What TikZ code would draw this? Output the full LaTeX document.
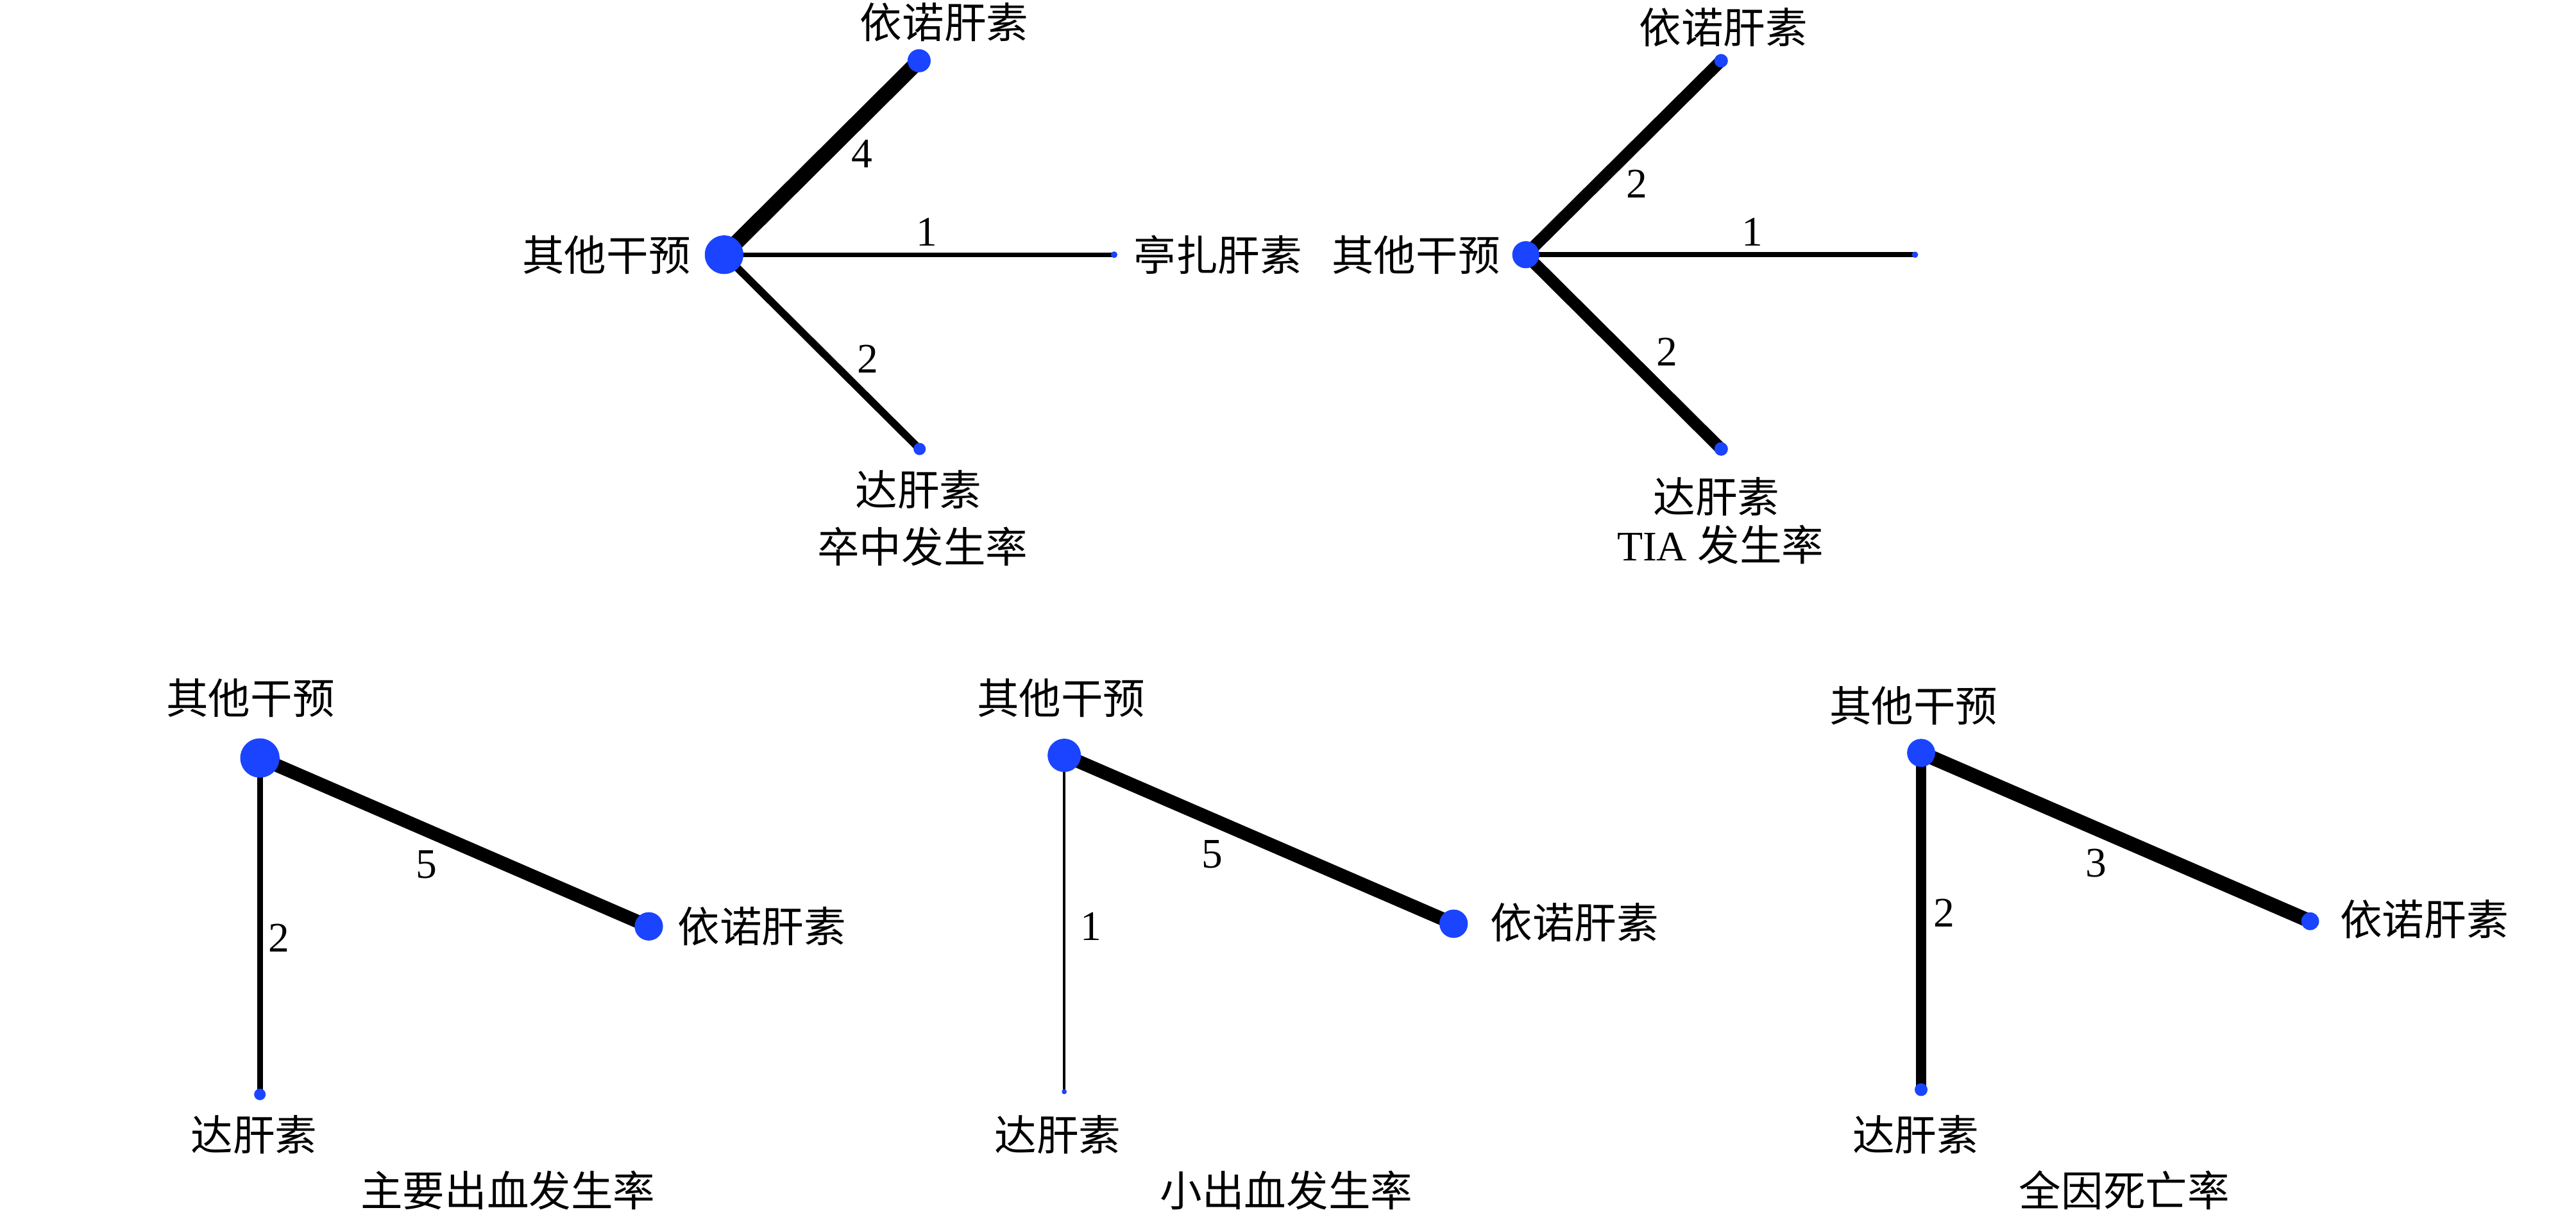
\documentclass[tikz,border=0pt]{standalone}
\usepackage{fontspec}
\setmainfont{Liberation Serif}
\newfontfamily\cjk{Noto Sans CJK SC}
\usetikzlibrary{positioning}
\pgfdeclarelayer{background}
\pgfsetlayers{background,main}
\definecolor{netblue}{RGB}{26,68,255}
\newcommand{\lblsize}{\fontsize{14.5}{16}\selectfont}

\begin{document}
\begin{tikzpicture}[x=0.02cm,y=-0.02cm]
\tikzstyle{every node}=[font=\lblsize]
\tikzstyle{dot}=[circle,fill=netblue,inner sep=0pt]
\tikzstyle{zh}=[font=\lblsize\cjk,inner sep=0pt]
\tikzstyle{num}=[inner sep=0pt]

\useasboundingbox (0,0) rectangle (1560,737);

%
% Stroke network (top left)
%

% Treatment dots
\node[dot,minimum size=0.468cm] (oth1) at (438.5,154.3) {};
\node[dot,minimum size=0.28cm]  (eno1) at (556.6,36.8) {};
\node[dot,minimum size=0.08cm]  (tin1) at (674.7,154.3) {};
\node[dot,minimum size=0.148cm] (dal1) at (556.9,272) {};

% Comparisons, width ~ number of studies
\begin{pgfonlayer}{background}
\draw[line width=5.2pt] (oth1.center) -- (eno1.center);
\draw[line width=1.5pt] (oth1.center) -- (tin1.center);
\draw[line width=2.6pt] (oth1.center) -- (dal1.center);
\end{pgfonlayer}
\node[num] (n14) at (521.9,93) {4};
\node[num] (n11) at (561.4,140.5) {1};
\node[num] (n12) at (525.5,217.4) {2};

% Labels
\node[zh,anchor=east] (loth1) at (418.6,154.3) {其他干预};
\node[zh] (leno1) at (571.8,13.4) {依诺肝素};
\node[zh,anchor=west] (ltin1) at (686.3,154.3) {亭扎肝素};
\node[zh] (ldal1) at (556.3,296.6) {达肝素};
\node[zh] (ttl1) at (558.7,331.2) {卒中发生率};

%
% TIA network (top right)
%

\node[dot,minimum size=0.328cm] (oth2) at (924,154.3) {};
\node[dot,minimum size=0.164cm] (eno2) at (1042.3,36.8) {};
\node[dot,minimum size=0.076cm] (tin2) at (1159.7,154.3) {};
\node[dot,minimum size=0.164cm] (dal2) at (1042.3,272) {};

\begin{pgfonlayer}{background}
\draw[line width=4.1pt] (oth2.center) -- (eno2.center);
\draw[line width=1.8pt] (oth2.center) -- (tin2.center);
\draw[line width=4.1pt] (oth2.center) -- (dal2.center);
\end{pgfonlayer}
\node[num] (n22) at (991.3,111.4) {2};
\node[num] (n21) at (1061.3,140.5) {1};
\node[num] (n23) at (1009.6,213) {2};

\node[zh,anchor=east] (loth2) at (908.8,154.3) {其他干预};
\node[zh] (leno2) at (1043.6,16.7) {依诺肝素};
\node[zh] (ldal2) at (1039.4,301) {达肝素};
\node[inner sep=0pt] (ttl2) at (1041.9,330) {TIA {\cjk 发生率}};

%
% Major bleeding (bottom left)
%

\node[dot,minimum size=0.476cm] (oth3) at (157.4,459.2) {};
\node[dot,minimum size=0.344cm] (eno3) at (392.9,561.2) {};
\node[dot,minimum size=0.14cm]  (dal3) at (157.4,663) {};

\begin{pgfonlayer}{background}
\draw[line width=4.6pt] (oth3.center) -- (eno3.center);
\draw[line width=2.0pt] (oth3.center) -- (dal3.center);
\end{pgfonlayer}
\node[num] (n35) at (258.2,523.6) {5};
\node[num] (n32) at (169,568.1) {2};

\node[zh] (loth3) at (151.7,423) {其他干预};
\node[zh,anchor=west] (leno3) at (410.1,561.2) {依诺肝素};
\node[zh] (ldal3) at (153.8,687.4) {达肝素};
\node[zh] (ttl3) at (307.6,721) {主要出血发生率};

%
% Minor bleeding (bottom middle)
%

\node[dot,minimum size=0.404cm] (oth4) at (644.5,457.6) {};
\node[dot,minimum size=0.344cm] (eno4) at (880.3,559.6) {};
\node[dot,minimum size=0.06cm]  (dal4) at (644.5,661.4) {};

\begin{pgfonlayer}{background}
\draw[line width=4.6pt] (oth4.center) -- (eno4.center);
\draw[line width=0.8pt] (oth4.center) -- (dal4.center);
\end{pgfonlayer}
\node[num] (n45) at (734.3,517.4) {5};
\node[num] (n41) at (660.6,561.4) {1};

\node[zh] (loth4) at (642.6,423) {其他干预};
\node[zh,anchor=west] (leno4) at (902.3,559) {依诺肝素};
\node[zh] (ldal4) at (640.6,687.4) {达肝素};
\node[zh] (ttl4) at (779,721) {小出血发生率};

%
% All-cause mortality (bottom right)
%

\node[dot,minimum size=0.34cm]  (oth5) at (1163.4,456.1) {};
\node[dot,minimum size=0.216cm] (eno5) at (1399,558.1) {};
\node[dot,minimum size=0.156cm] (dal5) at (1163.4,660.1) {};

\begin{pgfonlayer}{background}
\draw[line width=4.9pt] (oth5.center) -- (eno5.center);
\draw[line width=3.7pt] (oth5.center) -- (dal5.center);
\end{pgfonlayer}
\node[num] (n53) at (1269.5,523) {3};
\node[num] (n52) at (1177.3,553) {2};

\node[zh] (loth5) at (1158.8,427.4) {其他干预};
\node[zh,anchor=west] (leno5) at (1416.8,556.8) {依诺肝素};
\node[zh] (ldal5) at (1160.1,687.4) {达肝素};
\node[zh] (ttl5) at (1286.5,721) {全因死亡率};

\end{tikzpicture}
\end{document}
